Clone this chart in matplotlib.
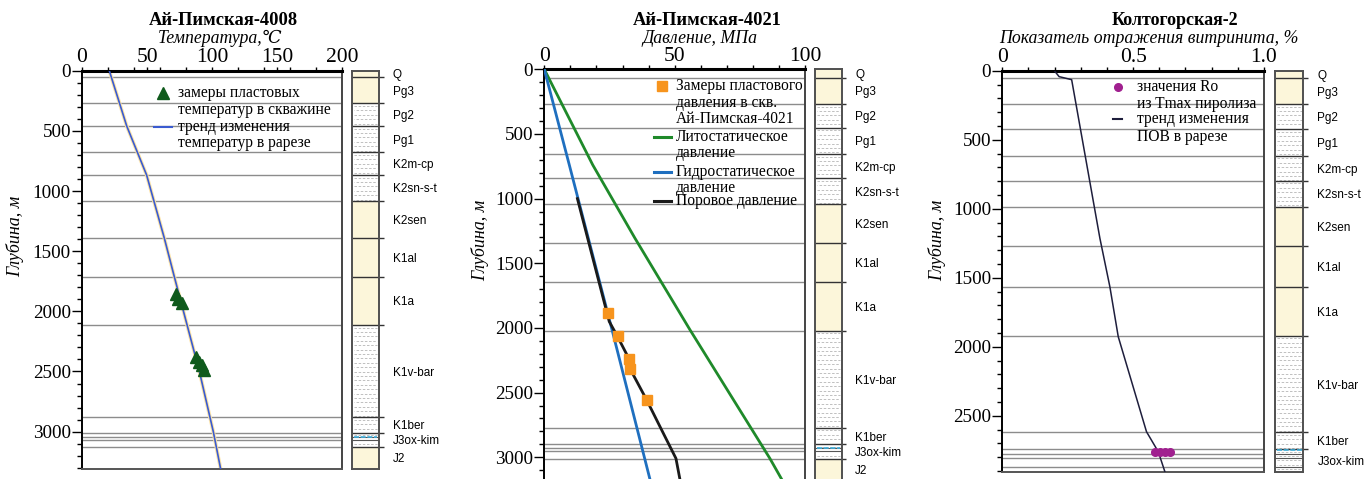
import numpy as np
import matplotlib.pyplot as plt
from matplotlib.lines import Line2D
from matplotlib.ticker import MultipleLocator

# ---------------- data ----------------
# Ай-Пимская-4008, temperature
temp_trend_depth = [0, 460, 867, 1391, 1712, 2500, 3000, 3313]
temp_trend_val = [21.0, 34.4, 49.7, 63.3, 71.0, 90.3, 101.0, 106.7]
temp_meas_depth = [1856, 1898, 1931, 2380, 2421, 2446, 2488]
temp_meas_val = [72.3, 73.8, 76.9, 87.7, 90.0, 92.3, 93.8]

# Ай-Пимская-4021, pressure
litho_depth = [0, 740, 1307, 2015, 3008, 3168]
litho_val = [0, 18.6, 34.8, 55.9, 86.5, 91.0]
hydro_depth = [0, 740, 2000, 3168]
hydro_val = [0, 9.6, 25.8, 40.5]
pore_depth = [1000, 1950, 2063, 2243, 2320, 2558, 2764, 3009, 3168]
pore_val = [12.7, 24.9, 28.0, 32.6, 33.0, 39.3, 44.4, 50.5, 52.0]
press_meas_depth = [1887, 2063, 2243, 2320, 2558]
press_meas_val = [24.5, 28.2, 32.6, 32.9, 39.3]

# Колтогорская-2, vitrinite reflectance
ro_trend_depth = [0, 43, 65, 1215, 1565, 1927, 2616, 2761, 2910]
ro_trend_val = [0.199, 0.217, 0.265, 0.373, 0.411, 0.443, 0.551, 0.596, 0.622]
ro_meas_depth = [2765, 2765, 2765, 2765]
ro_meas_val = [0.583, 0.602, 0.621, 0.640]

# stratigraphy
strat_names = ["Q", "Pg3", "Pg2", "Pg1", "K2m-cp", "K2sn-s-t", "K2sen",
               "K1al", "K1a", "K1v-bar", "K1ber", "J3ox-kim", "J2"]
strat_clay = [False, False, True, True, True, True, False,
              False, False, True, True, True, False]
tops_4008 = [0, 55, 271, 460, 678, 867, 1083, 1391, 1712, 2114, 2879, 3009, 3125]
extra_4008 = [3047, 3070]
cyan_4008 = 3042
base_4008 = 3313
tops_4021 = [0, 65, 268, 452, 655, 843, 1042, 1341, 1647, 2022, 2772, 2900, 3014]
extra_4021 = [2931, 2950]
cyan_4021 = 2931
base_4021 = 3168
tops_k2 = [0, 51, 241, 425, 616, 797, 986, 1270, 1565, 1920, 2620, 2741]
extra_k2 = [2780, 2809, 2870]
cyan_k2 = 2749
base_k2 = 2910

# ---------------- layout ----------------
W, H = 1367, 479
SERIF = ["Liberation Serif", "DejaVu Serif"]
SANS = ["Liberation Sans", "DejaVu Sans"]
plt.rcParams["font.family"] = SERIF
LEG = 11.2

fig = plt.figure(figsize=(W / 100, H / 100), dpi=100)


def rect(x0, y0, x1, y1):
    return [x0 / W, 1 - y1 / H, (x1 - x0) / W, (y1 - y0) / H]


def fx(x):
    return x / W


def fy(y):
    return 1 - y / H


def setup_main(ax, xmax, xminor, base, ylab_x, ylab_y, bottom=True):
    ax.set_xlim(0, xmax)
    ax.set_ylim(base, 0)
    ax.xaxis.set_minor_locator(MultipleLocator(xminor))
    ax.yaxis.set_major_locator(MultipleLocator(500))
    ax.yaxis.set_minor_locator(MultipleLocator(100))
    ax.tick_params(axis="x", which="both", top=True, bottom=False,
                   labeltop=True, labelbottom=False, direction="out",
                   length=3, pad=-0.5, labelsize=15.5, width=1)
    ax.tick_params(axis="y", which="major", left=True, right=False,
                   direction="out", length=7, pad=1, labelsize=13.8, width=1)
    ax.tick_params(axis="y", which="minor", direction="out", length=3.5, width=1)
    ax.spines["top"].set_linewidth(2.2)
    ax.spines["left"].set_linewidth(1.4)
    ax.spines["right"].set_linewidth(1.4)
    ax.spines["right"].set_color("#444444")
    ax.spines["bottom"].set_linewidth(1.4)
    ax.spines["bottom"].set_color("#555555")
    ax.spines["bottom"].set_visible(bottom)
    ax.set_ylabel("Глубина, м", fontstyle="italic", fontsize=13)
    ax.yaxis.set_label_coords(ylab_x, ylab_y)


def draw_strat(ax, axc, tops, extra, cyan, base, names, bottom=True):
    bounds = tops[1:]
    ax.hlines(bounds + extra, 0, 1, transform=ax.get_yaxis_transform(),
              colors="#8c8c8c", lw=1, zorder=1)
    axc.set_xlim(0, 1)
    axc.set_ylim(base, 0)
    axc.set_xticks([])
    axc.set_yticks([])
    for s in axc.spines.values():
        s.set_color("#505050")
        s.set_linewidth(1.4)
    axc.spines["bottom"].set_visible(bottom)
    ends = tops[1:] + [base]
    px_per_m = axc.get_position().height * H / base
    step = 4.4 / px_per_m
    for i, name in enumerate(names):
        t, b = tops[i], ends[i]
        if strat_clay[i]:
            ys = np.arange(t + step * 0.6, b, step)
            axc.hlines(ys[::2], 0.06, 0.94, colors="#b5b5b5", lw=0.6,
                       linestyles=(0, (3, 2)))
            axc.hlines(ys[1::2], 0.06, 0.94, colors="#b5b5b5", lw=0.6,
                       linestyles=(2.5, (3, 2)))
        else:
            axc.axhspan(t, b, color="#fcf6da", lw=0)
        axc.text(1.5, (t + min(b, base)) / 2 + 12, name, fontsize=8.5,
                 family=SANS, ha="left", va="center", clip_on=False)
    axc.hlines(bounds, 0, 1.17, colors="#333333", lw=1, clip_on=False)
    axc.hlines(extra, 0, 1, colors="#555555", lw=0.8)
    axc.hlines([cyan], 0.06, 0.94, colors="#3fb0dd", lw=1.2,
               linestyles=(0, (3, 1)))


def multiline(x, ys, lines, size=LEG):
    for y, s in zip(ys, lines):
        fig.text(fx(x), fy(y), s, fontsize=size, ha="left", va="center")


# ---------- panel 1 ----------
ax1 = fig.add_axes(rect(82, 70.7, 342, 469.3))
ax1c = fig.add_axes(rect(352, 70.7, 379, 469.3))
setup_main(ax1, 200, 20, base_4008, -0.223, 0.585)
ax1.set_xticks([0, 50, 100, 150, 200])
draw_strat(ax1, ax1c, tops_4008, extra_4008, cyan_4008, base_4008, strat_names)
ax1.plot(temp_trend_val, temp_trend_depth, color="#fbe3a8", lw=2.6, zorder=2)
ax1.plot(temp_trend_val, temp_trend_depth, color="#3a5bd0", lw=1.2, zorder=3)
ax1.plot(temp_meas_val, temp_meas_depth, "^", color="#0f5a1c", ms=8,
         mec="#0f5a1c", zorder=4)

fig.text(fx(223), fy(20.7), "Ай-Пимская-4008", fontsize=13.3,
         fontweight="bold", ha="center", va="center")
fig.text(fx(220), fy(38.3), "Температура,℃", fontsize=12.8,
         fontstyle="italic", ha="center", va="center")
fig.add_artist(Line2D([fx(163)], [fy(92.7)], marker="^", ms=8,
                      color="#0f5a1c", transform=fig.transFigure))
fig.add_artist(Line2D([fx(154), fx(171.7)], [fy(126.7)] * 2, lw=1.5,
                      color="#3a5bd0", transform=fig.transFigure))
multiline(178.3, [92.7, 110], ["замеры пластовых", "температур в скважине"])
multiline(178.3, [126.7, 143.3], ["тренд изменения", "температур в рарезе"])

# ---------- panel 2 ----------
ax2 = fig.add_axes(rect(544.3, 69.3, 805, 479))
ax2c = fig.add_axes(rect(815, 69.3, 841.7, 479))
setup_main(ax2, 100, 10, base_4021, -0.212, 0.583, bottom=False)
ax2.set_xticks([0, 50, 100])
draw_strat(ax2, ax2c, tops_4021, extra_4021, cyan_4021, base_4021,
           strat_names, bottom=False)
ax2.plot(litho_val, litho_depth, color="#1f8a2a", lw=2, zorder=3)
ax2.plot(hydro_val, hydro_depth, color="#1f6fbf", lw=2, zorder=3)
ax2.plot(pore_val, pore_depth, color="#1a1a1a", lw=2, zorder=4)
ax2.plot(press_meas_val, press_meas_depth, "s", color="#f7941d", ms=7.5,
         mec="#f7941d", zorder=5)

fig.text(fx(707.5), fy(20.7), "Ай-Пимская-4021", fontsize=13.3,
         fontweight="bold", ha="center", va="center")
fig.text(fx(700.2), fy(38.3), "Давление, МПа", fontsize=12.8,
         fontstyle="italic", ha="center", va="center")
fig.add_artist(Line2D([fx(661.7)], [fy(86)], marker="s", ms=7.5,
                      color="#f7941d", transform=fig.transFigure))
for yy, col in [(136.7, "#1f8a2a"), (171.7, "#1f6fbf"), (201, "#1a1a1a")]:
    fig.add_artist(Line2D([fx(654.3), fx(670.7)], [fy(yy)] * 2, lw=2.2,
                          color=col, transform=fig.transFigure))
multiline(676, [86, 102.7, 119],
          ["Замеры пластового", "давления в скв.", "Ай-Пимская-4021"])
multiline(676, [136.7, 153.3], ["Литостатическое", "давление"])
multiline(676, [171.7, 187.7], ["Гидростатическое", "давление"])
multiline(676, [201], ["Поровое давление"])

# ---------- panel 3 ----------
ax3 = fig.add_axes(rect(1002.3, 70.7, 1264, 472.3))
ax3c = fig.add_axes(rect(1275, 70.7, 1303.3, 472.3))
setup_main(ax3, 1.0, 0.1, base_k2, -0.215, 0.578)
ax3.set_xticks([0, 0.5, 1.0], labels=["0", "0.5", "1.0"])
draw_strat(ax3, ax3c, tops_k2, extra_k2, cyan_k2, base_k2, strat_names[:12])
ax3.plot(ro_trend_val, ro_trend_depth, color="#1e1e3c", lw=1.1, zorder=3)
ax3.plot(ro_meas_val, ro_meas_depth, "o", color="#a0208f", ms=5.5,
         mec="#a0208f", zorder=4)

fig.text(fx(1174.7), fy(20.7), "Колтогорская-2", fontsize=13,
         fontweight="bold", ha="center", va="center")
fig.text(fx(1148.8), fy(38.3), "Показатель отражения витринита, %",
         fontsize=12.8, fontstyle="italic", ha="center", va="center")
fig.add_artist(Line2D([fx(1118.3)], [fy(87.3)], marker="o", ms=5.5,
                      color="#a0208f", transform=fig.transFigure))
fig.add_artist(Line2D([fx(1112.7), fx(1121.7)], [fy(119)] * 2, lw=1.5,
                      color="#1e1e3c", transform=fig.transFigure))
multiline(1136.7, [87.3, 104], ["значения Ro", "из Tmax пиролиза"])
multiline(1136.7, [119, 136.7], ["тренд изменения", "ПОВ в рарезе"])

fig.savefig("out.png", dpi=100)
